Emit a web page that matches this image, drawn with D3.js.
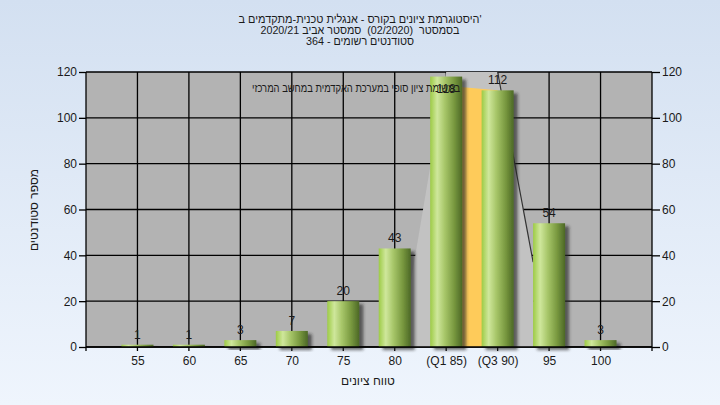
<!DOCTYPE html>
<html><head><meta charset="utf-8">
<script src="https://cdn.jsdelivr.net/npm/d3@7"></script>
<style>
html,body{margin:0;padding:0;}
svg{display:block;font-family:"Liberation Sans",Arial,sans-serif;}
</style></head>
<body>
<svg id="c" width="720" height="405"></svg>
<script>
const categories = ["55","60","65","70","75","80","(Q1 85)","(Q3 90)","95","100"];
const values = [1,1,3,7,20,43,118,112,54,3];
const yTicks = [0,20,40,60,80,100,120];
const titleLines = ["היסטוגרמת ציונים בקורס - אנגלית טכנית-מתקדמים ב'", "בסמסטר  (02/2020)  סמסטר אביב 2020/21", "סטודנטים רשומים - 364"];
const titleWidths = [243, 199, 108];
const yTitle = "מספר סטודנטים";
const xTitle = "טווח ציונים";
const note = "במשימת ציון סופי במערכת האקדמית במחשב המרכזי";
// decorative quartile shapes: [category index, value]
const boxShade = [[5.1,0],[6.0,120],[7.0,120],[7.69,37],[7.69,0]];
const boxLine = [[7.0,120],[7.69,37]];
const iqrBand = [[6.0,0],[6.0,114],[7.0,112],[7.0,0]];

const svg = d3.select("#c");
const W=720,H=405;
const L=86,R=652,T=72,B=347;
const defs = svg.append("defs");
const bg = defs.append("linearGradient").attr("id","bg").attr("x1",0).attr("y1",0).attr("x2",0).attr("y2",1);
bg.append("stop").attr("offset",0).attr("stop-color","#D3E0F1");
bg.append("stop").attr("offset",1).attr("stop-color","#EFF5FD");
const bar = defs.append("linearGradient").attr("id","bar").attr("x1",0).attr("y1",0).attr("x2",1).attr("y2",0);
[[0,"#9DCB45"],[0.22,"#CFE79C"],[0.45,"#A8C76A"],[0.75,"#78983F"],[1,"#4C6826"]].forEach(s=>bar.append("stop").attr("offset",s[0]).attr("stop-color",s[1]));
const f = defs.append("filter").attr("id","sh").attr("x","-30%").attr("y","-30%").attr("width","160%").attr("height","160%");
f.append("feDropShadow").attr("dx",4).attr("dy",3).attr("stdDeviation",1.6).attr("flood-color","#222").attr("flood-opacity",0.65);

svg.append("rect").attr("width",W).attr("height",H).attr("fill","url(#bg)");

const x = d3.scalePoint().domain(categories).range([L,R]).padding(1);
const y = d3.scaleLinear().domain([0,120]).range([B,T]);
const step = x.step();
const xi = i => x(categories[0]) + i*step;
const bw = 32;

svg.append("rect").attr("x",L).attr("y",T).attr("width",R-L).attr("height",B-T).attr("fill","#B3B3B3");

// grid
const g = svg.append("g");
g.selectAll(".hg").data(yTicks).join("line").attr("x1",L).attr("x2",R).attr("y1",d=>y(d)).attr("y2",d=>y(d)).attr("stroke","#000").attr("stroke-width",1.3);
g.selectAll(".vg").data(categories).join("line").attr("x1",d=>x(d)).attr("x2",d=>x(d)).attr("y1",T).attr("y2",B+4).attr("stroke","#000").attr("stroke-width",1.3);

// decorative shapes
const pt = d => [xi(d[0]), y(d[1])];
svg.append("path").attr("d",d3.line()(boxShade.map(pt))+"Z").attr("fill","#C2C2C2");
svg.append("path").attr("d",d3.line()(boxLine.map(pt))).attr("stroke","#333").attr("stroke-width",1.2).attr("fill","none");
svg.append("path").attr("d",d3.line()(iqrBand.map(pt))+"Z").attr("fill","#FECB5A");

// bars
svg.append("g").selectAll("rect").data(values).join("rect")
  .attr("x",(d,i)=>x(categories[i])-bw/2).attr("width",bw)
  .attr("y",d=>y(d)).attr("height",d=>B-y(d))
  .attr("fill","url(#bar)").attr("filter","url(#sh)");

// axes
const ax = svg.append("g");
ax.append("line").attr("x1",L).attr("x2",R).attr("y1",B).attr("y2",B).attr("stroke","#000").attr("stroke-width",1.3);
ax.append("line").attr("x1",L).attr("x2",L).attr("y1",T).attr("y2",B+4).attr("stroke","#000").attr("stroke-width",1.3);
ax.append("line").attr("x1",R).attr("x2",R).attr("y1",T).attr("y2",B+4).attr("stroke","#000").attr("stroke-width",1.3);
const la = d3.axisLeft(y).tickValues(yTicks).tickSize(7).tickPadding(2);
const ra = d3.axisRight(y).tickValues(yTicks).tickSize(8).tickPadding(2);
const xa = d3.axisBottom(x).tickSize(0).tickPadding(9);
[[la,L],[ra,R]].forEach(([a,px])=>{
  const gg = svg.append("g").attr("transform",`translate(${px},0)`).call(a);
  gg.select(".domain").remove();
  gg.selectAll("line").attr("stroke","#000").attr("stroke-width",1.3);
  gg.selectAll("text").attr("font-size",12).attr("fill","#1a1a1a").attr("font-family","Liberation Sans, Arial, sans-serif");
});
const gx = svg.append("g").attr("transform",`translate(0,${B})`).call(xa);
gx.select(".domain").remove();
gx.selectAll("text").attr("font-size",12).attr("fill","#1a1a1a").attr("font-family","Liberation Sans, Arial, sans-serif");

// note
svg.append("text").attr("x",460).attr("y",92).attr("text-anchor","end").attr("font-size",11.5)
  .attr("textLength",208).attr("lengthAdjust","spacingAndGlyphs").attr("fill","#1a1a1a").text(note);

// value labels
svg.append("g").selectAll("text").data(values).join("text")
  .attr("x",(d,i)=>x(categories[i])).attr("y",d=>{const yy=y(d)-6; return yy<T+4? y(d)+16 : yy;})
  .attr("text-anchor","middle").attr("font-size",12).attr("fill","#1a1a1a").text(d=>d);

// titles
svg.append("g").selectAll("text").data(titleLines).join("text")
  .attr("x",360).attr("y",(d,i)=>23+i*11).attr("text-anchor","middle").attr("font-size",11)
  .attr("textLength",(d,i)=>titleWidths[i]).attr("lengthAdjust","spacingAndGlyphs")
  .attr("fill","#1a1a1a").style("white-space","pre").text(d=>d);
svg.append("text").attr("transform","translate(38,210) rotate(-90)").attr("text-anchor","middle").attr("font-size",12).attr("fill","#1a1a1a").text(yTitle);
svg.append("text").attr("x",368).attr("y",385).attr("text-anchor","middle").attr("font-size",12).attr("fill","#1a1a1a").text(xTitle);
</script>
</body></html>
